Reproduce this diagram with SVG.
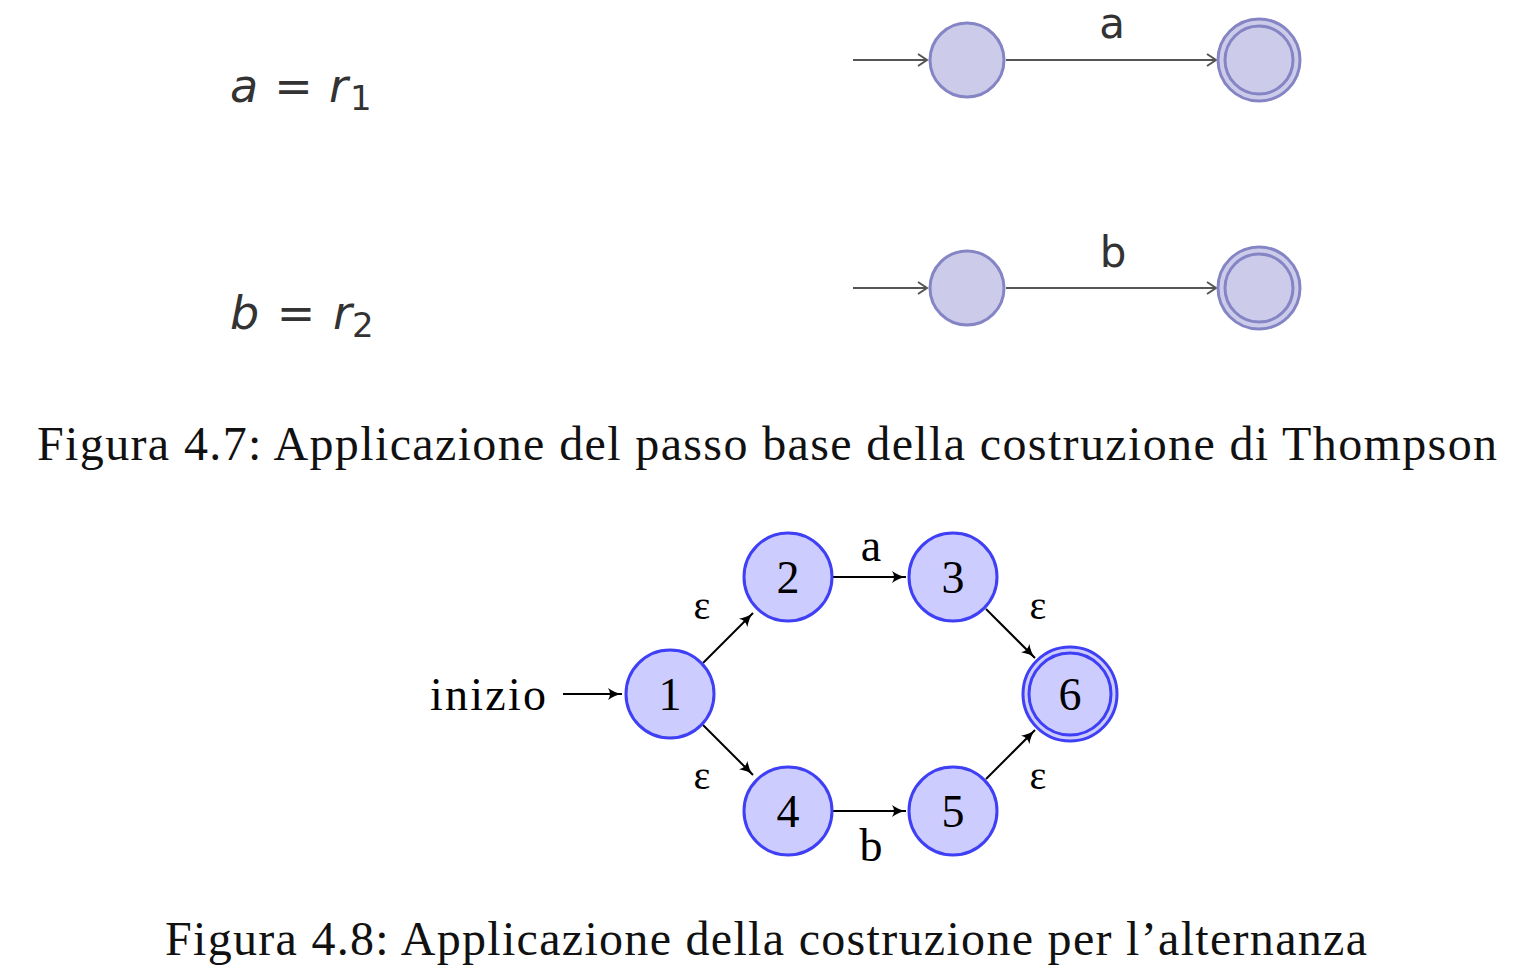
<svg xmlns="http://www.w3.org/2000/svg" width="1525" height="975" viewBox="0 0 1525 975">
<style>
.cap{font-family:"Liberation Serif",serif;font-size:48px;fill:#111}
.tn{fill:#ccccea;stroke:#8585c5;stroke-width:3}
.bn{fill:#ccccff;stroke:#3f3ff5;stroke-width:3}
.num{font-family:"Liberation Serif",serif;font-size:46px;text-anchor:middle;fill:#000}
.eps{font-family:"Liberation Serif",serif;font-size:40px;text-anchor:middle;fill:#000}
.lbl{font-family:"Liberation Serif",serif;font-size:46px;text-anchor:middle;fill:#000}
.tl{font-family:"DejaVu Sans",sans-serif;font-size:42px;text-anchor:middle;fill:#333}
.fm{font-family:"DejaVu Sans",sans-serif;font-size:46px;font-style:italic;fill:#333}
.e1{stroke:#555;stroke-width:2;fill:none}
.e2{stroke:#000;stroke-width:2;fill:none}
</style>
<defs>
<marker id="ta" markerWidth="14" markerHeight="14" refX="12" refY="7" orient="auto" markerUnits="userSpaceOnUse">
<path d="M3,1 L12,7 L3,13" fill="none" stroke="#555" stroke-width="2"/>
</marker>
<marker id="ba" markerWidth="16" markerHeight="14" refX="14" refY="7" orient="auto" markerUnits="userSpaceOnUse">
<path d="M0,1 Q7,6 14,7 Q7,8 0,13 Q4,7 0,1 Z" fill="#000"/>
</marker>
</defs>

<g id="formula1"><text class="fm" x="230" y="102" textLength="118">a = r</text><text x="350" y="110" font-family="DejaVu Sans,sans-serif" font-size="34" fill="#333">1</text></g>
<g id="formula2"><text class="fm" x="230" y="329" textLength="122">b = r</text><text x="352" y="337" font-family="DejaVu Sans,sans-serif" font-size="34" fill="#333">2</text></g>

<g id="top-connectors">
<line class="e1" x1="853" y1="60" x2="927" y2="60" marker-end="url(#ta)"/>
<line class="e1" x1="1006" y1="60" x2="1216" y2="60" marker-end="url(#ta)"/>
<line class="e1" x1="853" y1="288" x2="927" y2="288" marker-end="url(#ta)"/>
<line class="e1" x1="1006" y1="288" x2="1216" y2="288" marker-end="url(#ta)"/>
<text class="tl" x="1112" y="38">a</text>
<text class="tl" x="1113" y="267">b</text>
</g>
<g id="ta1"><circle class="tn" cx="967" cy="60" r="37"/></g>
<g id="ta2"><circle class="tn" cx="1259" cy="60" r="41"/><circle class="tn" cx="1259" cy="60" r="34"/></g>
<g id="tb1"><circle class="tn" cx="967" cy="288" r="37"/></g>
<g id="tb2"><circle class="tn" cx="1259" cy="288" r="41"/><circle class="tn" cx="1259" cy="288" r="34"/></g>

<text class="cap" x="37" y="460" textLength="1460">Figura 4.7: Applicazione del passo base della costruzione di Thompson</text>

<g id="connectors">
<line class="e2" x1="563" y1="694" x2="622" y2="694" marker-end="url(#ba)"/>
<line class="e2" x1="703" y1="663" x2="753" y2="613" marker-end="url(#ba)"/>
<line class="e2" x1="703" y1="725" x2="753" y2="775" marker-end="url(#ba)"/>
<line class="e2" x1="833" y1="577" x2="906" y2="577" marker-end="url(#ba)"/>
<line class="e2" x1="833" y1="811" x2="906" y2="811" marker-end="url(#ba)"/>
<line class="e2" x1="986" y1="609" x2="1035" y2="658" marker-end="url(#ba)"/>
<line class="e2" x1="986" y1="779" x2="1035" y2="730" marker-end="url(#ba)"/>
<text class="lbl" x="488" y="710" textLength="116">inizio</text>
<text class="lbl" x="871" y="561">a</text>
<text class="lbl" x="871" y="861">b</text>
<text class="eps" x="702" y="619">ε</text>
<text class="eps" x="1038" y="619">ε</text>
<text class="eps" x="702" y="789">ε</text>
<text class="eps" x="1038" y="789">ε</text>
</g>
<g id="n1"><circle class="bn" cx="670" cy="694" r="44"/><text class="num" x="670" y="710">1</text></g>
<g id="n2"><circle class="bn" cx="788" cy="577" r="44"/><text class="num" x="788" y="593">2</text></g>
<g id="n3"><circle class="bn" cx="953" cy="577" r="44"/><text class="num" x="953" y="593">3</text></g>
<g id="n4"><circle class="bn" cx="788" cy="811" r="44"/><text class="num" x="788" y="827">4</text></g>
<g id="n5"><circle class="bn" cx="953" cy="811" r="44"/><text class="num" x="953" y="827">5</text></g>
<g id="n6"><circle class="bn" cx="1070" cy="694" r="47"/><circle class="bn" cx="1070" cy="694" r="41"/><text class="num" x="1070" y="710">6</text></g>

<text class="cap" x="165" y="955" textLength="1202">Figura 4.8: Applicazione della costruzione per l’alternanza</text>
</svg>
